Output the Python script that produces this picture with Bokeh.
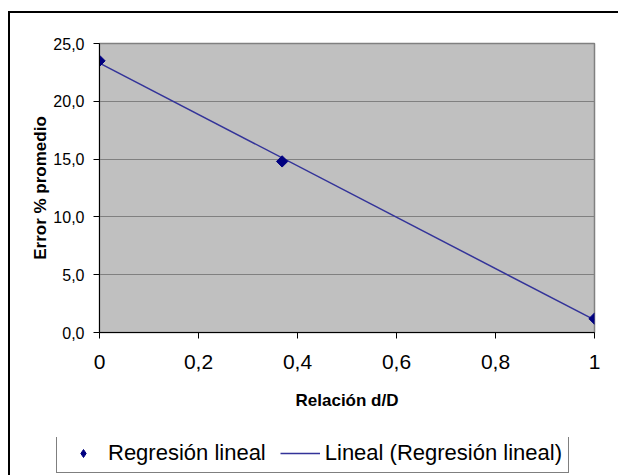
import numpy as np
from bokeh.plotting import figure
from bokeh.layouts import column
from bokeh.models import FixedTicker, Legend, LegendItem, Range1d
from bokeh.embed import file_html
from bokeh.resources import INLINE

# ---- data ----
relacion_dD = [0.0, 0.369, 1.0]
error_promedio = [23.5, 14.8, 1.2]
series_name = "Regresión lineal"
trend_name = "Lineal (Regresión lineal)"
x_ticks = [0.0, 0.2, 0.4, 0.6, 0.8, 1.0]
x_tick_labels = ["0", "0,2", "0,4", "0,6", "0,8", "1"]
y_ticks = [0, 5, 10, 15, 20, 25]
y_tick_labels = ["0,0", "5,0", "10,0", "15,0", "20,0", "25,0"]
x_title = "Relación d/D"
y_title = "Error % promedio"

# linear trendline (least squares) computed from the series
slope, intercept = np.polyfit(relacion_dD, error_promedio, 1)
trend_x = [min(x_ticks), max(x_ticks)]
trend_y = [intercept + slope * v for v in trend_x]

FONT = "Liberation Sans"
NAVY = "#000080"
TREND = dict(line_color="#333399", line_width=1.5)

# ---- main chart ----
p = figure(width=608, height=424, output_backend="svg", toolbar_location=None,
           x_range=Range1d(0, 1), y_range=Range1d(0, 25),
           min_border_left=89, min_border_right=24, min_border_top=30, min_border_bottom=105)
p.background_fill_color = "#c0c0c0"
p.border_fill_color = "white"
p.outline_line_color = "#808080"
p.outline_line_width = 1.5

p.line(trend_x, trend_y, **TREND)
p.scatter(relacion_dD, error_promedio, marker="square", angle=np.pi / 4, size=8,
          fill_color=NAVY, line_color=NAVY)

p.xaxis.ticker = FixedTicker(ticks=x_ticks)
p.xaxis.major_label_overrides = dict(zip(x_ticks, x_tick_labels))
p.yaxis.ticker = FixedTicker(ticks=y_ticks)
p.yaxis.major_label_overrides = dict(zip(y_ticks, y_tick_labels))
for ax in (p.xaxis, p.yaxis):
    ax.axis_line_color = "black"
    ax.axis_line_width = 1
    ax.major_tick_line_color = "black"
    ax.major_tick_out = 6
    ax.major_tick_in = 0
    ax.minor_tick_line_color = None
    ax.major_label_text_color = "black"
    ax.axis_label_text_font = FONT
    ax.axis_label_text_font_style = "bold"
    ax.axis_label_text_font_size = "17px"
    ax.axis_label_text_color = "black"
p.xaxis.major_label_text_font = FONT
p.xaxis.major_label_text_font_size = "21px"
p.xaxis.major_label_standoff = 16
p.yaxis.major_label_text_font = FONT
p.yaxis.major_label_text_font_size = "16px"
p.yaxis.major_label_standoff = 9

p.xaxis.axis_label = x_title
p.xaxis.axis_label_standoff = 19
p.yaxis.axis_label = y_title
p.yaxis.axis_label_standoff = 0

p.xgrid.grid_line_color = None
p.ygrid.grid_line_color = "#808080"
p.ygrid.grid_line_width = 1

# ---- legend strip ----
lf = figure(width=608, height=38, output_backend="svg", toolbar_location=None,
            x_axis_type=None, y_axis_type=None, x_range=Range1d(0, 1), y_range=Range1d(0, 25),
            min_border_left=0, min_border_right=0, min_border_top=0, min_border_bottom=0)
lf.frame_align = False
lf.outline_line_color = None
lf.background_fill_color = "white"
lf.border_fill_color = "white"
lf.grid.grid_line_color = None
lg_line = lf.line(trend_x, trend_y, visible=False, **TREND)
lg_pts = lf.scatter(relacion_dD, error_promedio, visible=False, marker="diamond", size=13,
                    fill_color=NAVY, line_color=NAVY)

legend = Legend(items=[LegendItem(label=series_name, renderers=[lg_pts]),
                       LegendItem(label=trend_name, renderers=[lg_line])],
                orientation="horizontal", location=(46, 2))
legend.label_text_font = FONT
legend.label_text_font_size = "22px"
legend.label_text_color = "black"
legend.glyph_width = 40
legend.glyph_height = 20
legend.label_standoff = 5
legend.spacing = 14
legend.padding = 6
legend.margin = 0
legend.border_line_color = "black"
legend.border_line_width = 1
legend.background_fill_color = "white"
legend.background_fill_alpha = 1
legend.inactive_fill_alpha = 0
lf.add_layout(legend)

page = column(p, lf, spacing=0)
page.styles = {"border-top": "2px solid black", "border-left": "2px solid black",
               "margin-left": "8px", "margin-top": "11px"}

open("out.html", "w").write(file_html(page, INLINE))
